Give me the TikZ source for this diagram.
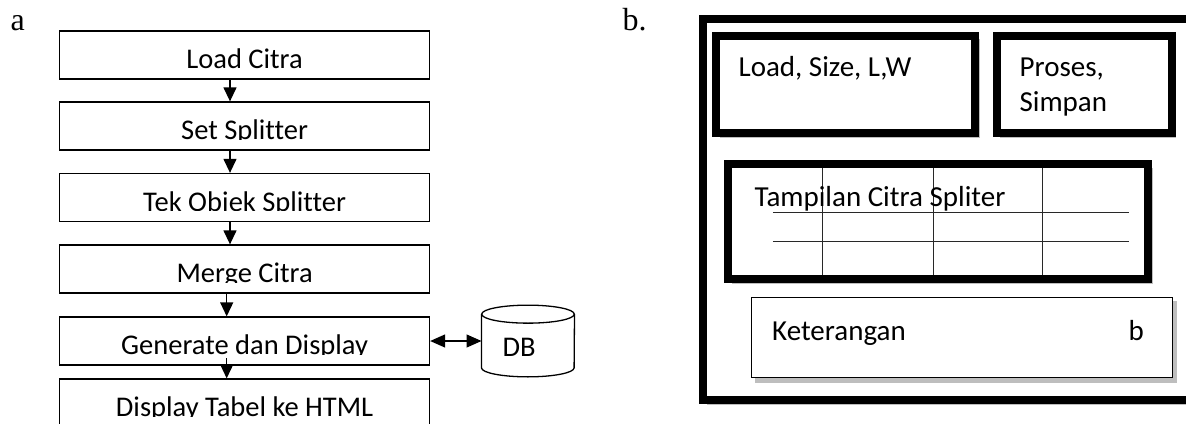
\documentclass[tikz,border=0pt]{standalone}
\usepackage{fontspec}
\setmainfont{Liberation Serif}
\newfontfamily\boxfont[Ligatures=NoCommon]{Carlito}
\definecolor{ShadowGray}{RGB}{190,190,190}
\definecolor{GridLine}{RGB}{40,40,40}
\usepackage{tikz}
\usetikzlibrary{
  positioning,
  arrows.meta,
  calc
}
\tikzset{
  % Text inside the flow boxes
  boxtext/.style={
    font=\boxfont\fontsize{28.5}{34}\selectfont,
    inner sep=0pt
  },
  % Text on the screen layout
  screentext/.style={
    font=\boxfont\fontsize{29}{35}\selectfont,
    inner sep=0pt,
    anchor=base west
  },
  % Panel letter
  panellabel/.style={
    font=\fontsize{32}{38}\selectfont,
    inner sep=0pt,
    anchor=base west
  },
  % Flow step (its text is cut off at the baseline)
  stepbox/.style={
    rectangle,
    draw=black,
    line width=1.3pt,
    minimum width=369.8pt,
    minimum height=48pt,
    inner sep=0pt,
    path picture={
      \clip ([yshift=10.6pt]path picture bounding box.south west)
        rectangle (path picture bounding box.north east);
      \node[boxtext, anchor=base] at ([yshift=10.5pt]path picture bounding box.south) {#1};
    }
  },
  % Flow arrow
  flowarrow/.style={
    draw=black,
    line width=1.3pt,
    -{Triangle[length=14pt,width=13pt]}
  },
  % Two-way arrow to the database
  dbarrow/.style={
    draw=black,
    line width=1.3pt,
    {Triangle[length=15pt,width=13pt]}-{Triangle[length=15pt,width=13pt]}
  },
  % Database
  dbshape/.style={
    minimum width=92.6pt,
    minimum height=71.3pt,
    inner sep=0pt
  },
  dbline/.style={
    draw=black,
    line width=1.3pt
  },
  % Thick frame with grey shadow
  framebox/.style={
    draw=black,
    fill=white,
    line width=8pt,
    preaction={draw=ShadowGray, fill=ShadowGray, transform canvas={shift={(4pt,-4pt)}}}
  },
  % Thin frame with grey shadow
  thinbox/.style={
    draw=black,
    fill=white,
    line width=1.5pt,
    preaction={draw=ShadowGray, fill=ShadowGray, transform canvas={shift={(4pt,-4pt)}}}
  },
  % Table rules
  gridrule/.style={
    draw=GridLine,
    line width=1pt
  }
}

\begin{document}
\begin{tikzpicture}[x=1pt, y=-1pt]
  \useasboundingbox (0,0) rectangle (1186,423);

  % panel a
  \node[panellabel] (labela) at (10.5,30) {a};

  \node[stepbox={Load Citra}]            (load)     at (244.6,55)    {};
  \node[stepbox={Set Splitter}]          (setsplit) at (244.6,126)   {};
  \node[stepbox={Tek Objek Splitter}]    (tekobjek) at (244.6,197.5) {};
  \node[stepbox={Merge Citra}]           (merge)    at (244.6,269)   {};
  \node[stepbox={Generate dan Display}]  (gendisp)  at (244.6,341)   {};
  \node[stepbox={Display Tabel ke HTML}] (html)     at (244.6,403)   {};

  \draw[flowarrow] ([xshift=-14.6pt,yshift=1.5pt]load.south) -- ([xshift=-14.6pt]setsplit.north);
  \draw[flowarrow] ([xshift=-14.6pt]setsplit.south) -- ([xshift=-14.6pt]tekobjek.north);
  \draw[flowarrow] ([xshift=-14.6pt]tekobjek.south) -- ([xshift=-14.6pt]merge.north);
  \draw[flowarrow] ([xshift=-17.9pt]merge.south) -- ([xshift=-17.9pt]gendisp.north);
  \draw[flowarrow] ([xshift=-17.9pt,yshift=7.4pt]gendisp.south) -- ([xshift=-17.9pt]html.north);

  \node[dbshape] (db) at (528,341) {};
  \draw[dbline] ([yshift=-9pt]db.north) ellipse [x radius=46.3, y radius=9];
  \draw[dbline] ([yshift=-9pt]db.north west) -- ([yshift=9pt]db.south west)
    arc[start angle=180, end angle=0, x radius=46.3, y radius=9] -- ([yshift=-9pt]db.north east);
  \node[boxtext, anchor=base] (dbtext) at (519.2,356.7) {DB};

  \draw[dbarrow] (gendisp.east) -- (db.west);

  % panel b
  \node[panellabel] (labelb) at (622.5,30) {b.};

  \draw[framebox] (703.2,19.2) rectangle (1215,400);
  \draw[framebox] (715.7,35.5) rectangle (974.8,133.3);
  \draw[framebox] (996.5,35.5) rectangle (1171.6,133.3);
  \draw[framebox] (728,164) rectangle (1148,279.2);

  % table inside the preview
  \foreach \gx in {822.6, 933.2, 1042} {
    \draw[gridrule] (\gx,168) -- (\gx,275);
  }
  \foreach \gy in {212.3, 241} {
    \draw[gridrule] (772.9,\gy) -- (1129.3,\gy);
  }

  \draw[thinbox] (751.6,297.3) rectangle (1172.6,377.7);

  \node[screentext] (txtload)   at (738.4,76.7)  {Load, Size, L,W};
  \node[screentext] (txtproses) at (1019.4,76.7) {Proses,};
  \node[screentext] (txtsimpan) at (1019.4,111.7) {Simpan};
  \node[screentext] (txttampil) at (754.5,206.7) {Tampilan Citra Spliter};
  \node[screentext] (txtket)    at (772,340)     {Keterangan};
  \node[screentext] (txtb)      at (1128.5,340)  {b};
\end{tikzpicture}
\end{document}
